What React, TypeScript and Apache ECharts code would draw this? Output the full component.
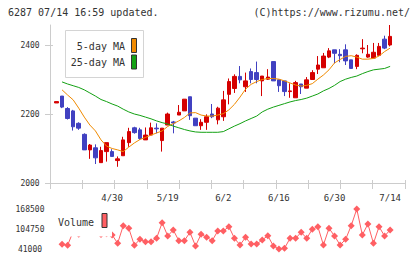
import React, { useEffect, useRef } from "react";
import * as echarts from "echarts";

// Trading days shown on the chart
const dates = [
  "4/15", "4/16", "4/19", "4/20", "4/21", "4/22", "4/23", "4/26", "4/27", "4/28", "4/30",
  "5/6", "5/7", "5/10", "5/11", "5/12", "5/13", "5/14", "5/17", "5/18", "5/19", "5/20", "5/21",
  "5/24", "5/25", "5/26", "5/27", "5/28", "5/31",
  "6/1", "6/2", "6/3", "6/4", "6/7", "6/8", "6/9", "6/10", "6/11", "6/14", "6/15", "6/16",
  "6/17", "6/18", "6/21", "6/22", "6/23", "6/24", "6/25", "6/28", "6/29", "6/30",
  "7/1", "7/2", "7/5", "7/6", "7/7", "7/8", "7/9", "7/12", "7/13", "7/14",
];

// Dates that get a label under the price panel
const labelDates = ["4/30", "5/19", "6/2", "6/16", "6/30", "7/14"];

// [open, close, low, high]
const candles = [
  [2232, 2236, 2232, 2236], [2252, 2220, 2217, 2252], [2216, 2187, 2184, 2220], [2209, 2163, 2152, 2212],
  [2173, 2159, 2154, 2176], [2141, 2096, 2096, 2144], [2096, 2110, 2070, 2113], [2102, 2073, 2055, 2112],
  [2059, 2094, 2059, 2105], [2091, 2117, 2062, 2117], [2091, 2077, 2077, 2098], [2065, 2070, 2047, 2077],
  [2079, 2125, 2079, 2134], [2117, 2149, 2105, 2160], [2160, 2146, 2143, 2163], [2154, 2129, 2125, 2160],
  [2125, 2139, 2125, 2161], [2139, 2160, 2139, 2175], [2159, 2157, 2144, 2173], [2123, 2159, 2091, 2159],
  [2168, 2200, 2168, 2204], [2177, 2174, 2144, 2180], [2197, 2205, 2197, 2226], [2209, 2243, 2209, 2243],
  [2250, 2195, 2183, 2250], [2188, 2166, 2166, 2188], [2166, 2176, 2154, 2185], [2176, 2192, 2154, 2199],
  [2200, 2192, 2188, 2229], [2183, 2217, 2170, 2221], [2192, 2241, 2180, 2267], [2257, 2294, 2228, 2303],
  [2274, 2309, 2261, 2315], [2309, 2299, 2289, 2339], [2279, 2296, 2264, 2320], [2323, 2300, 2289, 2332],
  [2320, 2300, 2289, 2352], [2296, 2310, 2252, 2310], [2301, 2307, 2299, 2330], [2352, 2296, 2296, 2352],
  [2299, 2282, 2264, 2299], [2296, 2265, 2252, 2296], [2265, 2267, 2247, 2289], [2247, 2291, 2247, 2296],
  [2287, 2279, 2258, 2287], [2275, 2299, 2275, 2307], [2300, 2320, 2300, 2327], [2330, 2342, 2316, 2368],
  [2334, 2368, 2334, 2377], [2365, 2383, 2362, 2391], [2386, 2376, 2347, 2386], [2373, 2369, 2350, 2388],
  [2386, 2354, 2342, 2402], [2357, 2332, 2332, 2357], [2338, 2370, 2330, 2373], [2389, 2391, 2376, 2417],
  [2365, 2373, 2363, 2400], [2362, 2379, 2362, 2406], [2370, 2396, 2370, 2406], [2417, 2391, 2388, 2427],
  [2400, 2425, 2396, 2458],
];

const ma5 = [
  null, 2270, 2255, 2241, 2217, 2191, 2168, 2151, 2125, 2107, 2100, 2096, 2091, 2104, 2116, 2126,
  2132, 2139, 2145, 2151, 2164, 2172, 2180, 2190, 2203, 2204, 2197, 2194, 2194, 2197, 2201, 2212,
  2228, 2249, 2272, 2286, 2294, 2300, 2303, 2303, 2301, 2296, 2290, 2284, 2281, 2283, 2288, 2301,
  2313, 2328, 2348, 2358, 2367, 2369, 2365, 2359, 2359, 2361, 2368, 2381, 2391,
];

const ma25 = [
  null, 2293, 2287, 2282, 2277, 2270, 2261, 2252, 2242, 2236, 2229, 2223, 2214, 2206, 2200, 2196,
  2191, 2186, 2180, 2175, 2171, 2165, 2160, 2155, 2151, 2148, 2147, 2147, 2147, 2147, 2149, 2157,
  2165, 2172, 2180, 2187, 2194, 2206, 2214, 2220, 2225, 2230, 2235, 2239, 2242, 2246, 2252, 2258,
  2267, 2274, 2283, 2294, 2301, 2306, 2310, 2317, 2323, 2328, 2330, 2332, 2338,
];

const volume = [
  null, 56000, 52800, 97000, 88000, 125000, 110000, 95000, 87000, 90000, 86000, 59200, 115300,
  107000, 52800, 71900, 64300, 64300, 75100, 124900, 82400, 101600, 67500, 67500, 94200, 50600,
  87800, 78300, 67500, 98400, 98400, 112100, 75100, 53800, 78300, 56900, 56900, 69700, 83400,
  50600, 41000, 43200, 75100, 75100, 94200, 75100, 103800, 112100, 53800, 107000, 82400, 53800,
  71900, 115300, 168500, 85600, 120700, 59200, 112100, 82400, 101600,
];

const priceTicks = [2000, 2200, 2400];
const volumeTicks = [41000, 104750, 168500];

const MONO = "'DejaVu Sans Mono', monospace";
const UP = "#d50000";
const DOWN = "#4141c1";
const MA5_COLOR = "#f08a00";
const MA25_COLOR = "#13a113";
const VOL_COLOR = "#ff5f63";
const AXIS = "#cccccc";
const TEXT = "#333333";

const plain = (v: number) => String(v);

export default function App() {
  const ref = useRef<HTMLDivElement>(null);

  useEffect(() => {
    if (!ref.current) return;
    const chart = echarts.init(ref.current, undefined, { renderer: "svg" });

    const priceMin = 2000;
    const priceMax = 2458;

    chart.setOption({
      animation: false,
      backgroundColor: "#ffffff",
      grid: [
        { left: 50, top: 25, width: 355, height: 158 },
        { left: 53.72, top: 25, width: 339.2, height: 158 },
        { left: 53.72, top: 209, width: 339.2, height: 40 },
      ],
      xAxis: [
        {
          gridIndex: 0, type: "value", position: "bottom", min: 0, max: 11, interval: 1,
          axisLine: { onZero: false, lineStyle: { color: AXIS, width: 1 } },
          axisTick: { length: 6, lineStyle: { color: AXIS } },
          axisLabel: { show: false }, splitLine: { show: false },
        },
        {
          gridIndex: 0, type: "value", position: "bottom", min: 0, max: 11, interval: 1,
          axisLine: { show: false, onZero: false },
          axisTick: { inside: true, length: 3, lineStyle: { color: AXIS } },
          axisLabel: { show: false }, splitLine: { show: false },
        },
        {
          gridIndex: 1, type: "category", position: "bottom", data: dates, boundaryGap: true,
          axisLine: { show: false, onZero: false }, axisTick: { show: false },
          axisLabel: {
            interval: (_i: number, v: string) => labelDates.includes(v),
            margin: 10, fontSize: 9, color: TEXT, fontFamily: MONO,
          },
          splitLine: { show: false },
        },
        { gridIndex: 2, type: "category", data: dates, boundaryGap: true, show: false },
      ],
      yAxis: [
        {
          gridIndex: 0, type: "value", position: "left", min: priceMin, max: priceMax,
          axisLine: { show: true, onZero: false, lineStyle: { color: AXIS } },
          axisTick: { show: true, length: 5, lineStyle: { color: AXIS }, customValues: priceTicks },
          axisLabel: {
            customValues: priceTicks, formatter: plain, align: "center", margin: 20,
            fontSize: 8, color: TEXT, fontFamily: MONO,
          },
          splitLine: { show: false },
        },
        {
          gridIndex: 0, type: "value", position: "left", min: priceMin, max: priceMax,
          axisLine: { show: false, onZero: false },
          axisTick: { show: true, inside: true, length: 3, lineStyle: { color: AXIS }, customValues: priceTicks },
          axisLabel: { show: false }, splitLine: { show: false },
        },
        { gridIndex: 1, type: "value", min: priceMin, max: priceMax, show: false },
        {
          gridIndex: 2, type: "value", position: "left", min: 41000, max: 168500,
          axisLine: { show: false, onZero: false }, axisTick: { show: false },
          axisLabel: {
            customValues: volumeTicks, formatter: plain, align: "center", margin: 23.72,
            fontSize: 8, color: TEXT, fontFamily: MONO,
          },
          splitLine: { show: false },
        },
      ],
      series: [
        {
          name: "Price", type: "candlestick", xAxisIndex: 2, yAxisIndex: 2, data: candles,
          barWidth: 4,
          itemStyle: { color: UP, color0: DOWN, borderColor: UP, borderColor0: DOWN, borderWidth: 1 },
        },
        {
          name: "5-day MA", type: "line", xAxisIndex: 2, yAxisIndex: 2, data: ma5,
          symbol: "none", lineStyle: { color: MA5_COLOR, width: 1 }, z: 3,
        },
        {
          name: "25-day MA", type: "line", xAxisIndex: 2, yAxisIndex: 2, data: ma25,
          symbol: "none", lineStyle: { color: MA25_COLOR, width: 1 }, z: 3,
        },
        {
          name: "Volume", type: "line", xAxisIndex: 3, yAxisIndex: 3, data: volume,
          symbol: "diamond", symbolSize: 7, showAllSymbol: true,
          lineStyle: { color: VOL_COLOR, width: 1 }, itemStyle: { color: VOL_COLOR },
        },
      ],
      graphic: [
        {
          type: "text", left: 8, top: 7, z: 100,
          style: { text: "6287 07/14 16:59 updated.", font: `10px ${MONO}`, fill: TEXT },
        },
        {
          type: "text", right: 10, top: 7, z: 100,
          style: { text: "(C)https://www.rizumu.net/", font: `10px ${MONO}`, fill: TEXT },
        },
        // price legend
        {
          type: "rect", z: 100, shape: { x: 65.5, y: 30.5, width: 78, height: 47 },
          style: { fill: "#ffffff", stroke: "#d4d4d4", lineWidth: 1 },
        },
        {
          type: "text", z: 101, x: 125, y: 46,
          style: { text: "5-day MA", font: `10px ${MONO}`, fill: TEXT, align: "right", verticalAlign: "middle" },
        },
        {
          type: "text", z: 101, x: 125, y: 62.5,
          style: { text: "25-day MA", font: `10px ${MONO}`, fill: TEXT, align: "right", verticalAlign: "middle" },
        },
        {
          type: "rect", z: 101, shape: { x: 131.5, y: 38.5, width: 5, height: 14 },
          style: { fill: MA5_COLOR, stroke: "#333333", lineWidth: 1 },
        },
        {
          type: "rect", z: 101, shape: { x: 131.5, y: 55, width: 5, height: 14 },
          style: { fill: MA25_COLOR, stroke: "#333333", lineWidth: 1 },
        },
        // volume legend
        {
          type: "rect", z: 100, shape: { x: 55, y: 203, width: 57, height: 33.5 },
          style: { fill: "#ffffff" },
        },
        {
          type: "text", z: 101, x: 58, y: 222,
          style: { text: "Volume", font: `10px ${MONO}`, fill: TEXT, align: "left", verticalAlign: "middle" },
        },
        {
          type: "rect", z: 101, shape: { x: 102, y: 213.5, width: 5, height: 14 },
          style: { fill: VOL_COLOR, stroke: "#333333", lineWidth: 1 },
        },
      ],
    });

    return () => chart.dispose();
  }, []);

  return (
    <div
      ref={ref}
      style={{ position: "absolute", left: 0, top: 0, width: 420, height: 259 }}
    />
  );
}
